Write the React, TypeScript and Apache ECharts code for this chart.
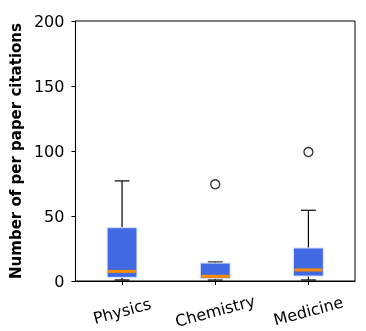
import React, { useEffect, useRef } from "react";
import * as echarts from "echarts";

const categories = ["Physics", "Chemistry", "Medicine"];
// [low whisker, Q1, median, Q3, high whisker]
const boxValues = [
  [0.8, 2.8, 7.4, 41, 77],
  [0.8, 1.8, 3.6, 13.8, 14.6],
  [0.8, 3.8, 8.5, 25.4, 54.4],
];
// [category index, value]
const outliers = [
  [1, 74.4],
  [2, 99.2],
];
const yTicks = [0, 50, 100, 150, 200];

const FONT = "DejaVu Sans";

export default function App() {
  const ref = useRef<HTMLDivElement>(null);
  useEffect(() => {
    const chart = echarts.init(ref.current!, null, { renderer: "svg" });
    const data = boxValues.map((v, i) => [i, ...v]);
    chart.setOption({
      animation: false,
      grid: { left: 75, right: 11, top: 21, bottom: 50, show: true, borderColor: "#000", borderWidth: 1, backgroundColor: "transparent" },
      xAxis: {
        type: "category",
        data: categories,
        axisLine: { show: true, lineStyle: { color: "#000", width: 1 } },
        axisTick: { show: true, alignWithLabel: true, length: 4, lineStyle: { color: "#000" } },
        axisLabel: { rotate: 15, align: "center", verticalAlign: "middle", margin: 30, color: "#000", fontFamily: FONT, fontSize: 16 },
        splitLine: { show: false },
      },
      yAxis: {
        type: "value",
        min: yTicks[0],
        max: yTicks[yTicks.length - 1],
        interval: 50,
        name: "Number of per paper citations",
        nameLocation: "middle",
        nameGap: 51,
        nameTextStyle: { color: "#000", fontFamily: FONT, fontSize: 15, fontWeight: "bold" },
        axisLine: { show: true, lineStyle: { color: "#000", width: 1 } },
        axisTick: { show: true, length: 4, lineStyle: { color: "#000" } },
        axisLabel: { color: "#000", fontFamily: FONT, fontSize: 16, margin: 11 },
        splitLine: { show: false },
      },
      series: [
        {
          type: "custom",
          data,
          encode: { x: 0, y: [1, 2, 3, 4, 5] },
          renderItem: (params: any, api: any) => {
            const x = api.value(0);
            const low = api.coord([x, api.value(1)]);
            const q1 = api.coord([x, api.value(2)]);
            const med = api.coord([x, api.value(3)]);
            const q3 = api.coord([x, api.value(4)]);
            const high = api.coord([x, api.value(5)]);
            const band = api.size([1, 0])[0];
            const bw = band * 0.32;
            const cw = bw / 2;
            const cx = q1[0];
            const blk = { stroke: "#000", lineWidth: 1.2 };
            return {
              type: "group",
              children: [
                { type: "line", shape: { x1: cx, y1: low[1], x2: cx, y2: q1[1] }, style: blk },
                { type: "line", shape: { x1: cx, y1: q3[1], x2: cx, y2: high[1] }, style: blk },
                { type: "line", shape: { x1: cx - cw / 2, y1: low[1], x2: cx + cw / 2, y2: low[1] }, style: blk },
                { type: "line", shape: { x1: cx - cw / 2, y1: high[1], x2: cx + cw / 2, y2: high[1] }, style: blk },
                {
                  type: "rect",
                  shape: { x: cx - bw / 2, y: q3[1], width: bw, height: q1[1] - q3[1] },
                  style: { fill: "#4169E1", stroke: "#dce3fa", lineWidth: 1 },
                },
                { type: "line", shape: { x1: cx - bw / 2 + 1, y1: med[1], x2: cx + bw / 2 - 1, y2: med[1] }, style: { stroke: "#FF8C00", lineWidth: 3 } },
              ],
            };
          },
          z: 3,
        },
        {
          type: "scatter",
          data: outliers,
          symbol: "circle",
          symbolSize: 9,
          itemStyle: { color: "#fff", borderColor: "#000", borderWidth: 1.3 },
          z: 4,
        },
      ],
    });
    return () => chart.dispose();
  }, []);
  return <div ref={ref} style={{ position: "fixed", left: 0, top: 0, width: 366, height: 331 }} />;
}
